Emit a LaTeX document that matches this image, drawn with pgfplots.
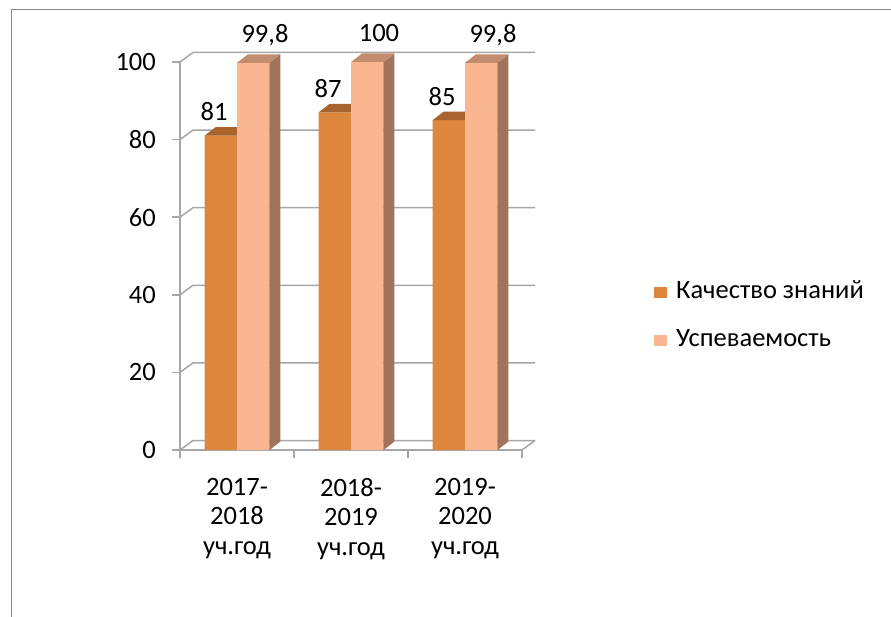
\documentclass[border=0pt]{standalone}
\usepackage{fontspec}
\setmainfont{Carlito}
\usepackage{pgfplots}
\usepackage{pgfplotstable}
\pgfplotsset{compat=1.18}
\definecolor{orF}{HTML}{DD863D}
\definecolor{orT}{HTML}{A9632C}
\definecolor{orS}{HTML}{A9632C}
\definecolor{peF}{HTML}{F9B690}
\definecolor{peT}{HTML}{C28C6E}
\definecolor{peS}{HTML}{A0735A}
\definecolor{gridc}{HTML}{A6A6A6}
\definecolor{framec}{HTML}{878787}

\pgfplotstableread{
x k u
0 81 99.8
1 87 100
2 85 99.8
}\data

\def\bw{0.285}
\def\dxu{0.0965}
\def\dyu{2.19}

\newcommand\barfaces[4]{%
  \pgfmathsetmacro\xl{#1-\bw/2}%
  \pgfmathsetmacro\xr{#1+\bw/2}%
  \pgfmathsetmacro\xlb{\xl+\dxu}%
  \pgfmathsetmacro\xrb{\xr+\dxu}%
  \pgfmathsetmacro\hb{#2+\dyu}%
  \edef\tmp{%
    \noexpand\addplot[fill=#4,draw=none,forget plot] coordinates {(\xr,0) (\xrb,\dyu) (\xrb,\hb) (\xr,#2)} -- cycle;
    \noexpand\addplot[fill=#3,draw=none,forget plot] coordinates {(\xl,#2) (\xr,#2) (\xrb,\hb) (\xlb,\hb)} -- cycle;
  }\tmp}

\begin{document}
\begin{tikzpicture}
\path[use as bounding box] (0,0) rectangle (891pt,616pt);
\draw[framec, line width=1.6pt] (11.5pt,-2pt) -- (11.5pt,606.5pt) -- (893pt,606.5pt);
\begin{axis}[
  at={(180pt,166pt)}, anchor=south west,
  scale only axis, width=342pt, height=388pt,
  xmin=-0.5, xmax=2.5, ymin=0, ymax=100,
  clip=false,
  axis x line*=bottom, axis y line*=left,
  axis line style={draw=gridc, line width=1.5pt},
  ytick={0,20,...,100},
  xtick={-0.5,0.5,1.5,2.5}, xticklabels={},
  extra x ticks={0,1,2},
  extra x tick labels={{2017-\\2018\\уч.год},{2018-\\2019\\уч.год},{2019-\\2020\\уч.год}},
  extra x tick style={major tick length=0pt},
  tick align=outside, major tick length=8pt,
  tick style={draw=gridc, line width=1.5pt},
  font=\fontsize{26.5}{29.5}\selectfont,
  ticklabel style={font=\fontsize{26.5}{29.5}\selectfont},
  yticklabel style={inner sep=0pt, xshift=-16pt},
  xticklabel style={align=center, inner sep=0pt, anchor=north, yshift=-28pt},
  /pgf/number format/.cd, use comma, 1000 sep={}, assume math mode=true,
  /pgfplots/.cd,
  legend style={at={(axis description cs:1.386,0.3428)}, anchor=west, draw=none, fill=none,
    inner sep=0pt, font=\fontsize{26.5}{29.5}\selectfont,
    nodes={inner sep=0pt, text height=18pt, text depth=6pt},
    row sep=24pt},
  legend cell align=left,
  every node near coord/.append style={font=\fontsize{26.5}{29.5}\selectfont, inner sep=0pt, anchor=base},
]
\pgfplotsinvokeforeach{0,20,40,60,80,100}{%
  \draw[gridc, line width=1.5pt] (axis cs:-0.5,#1) -- ++(13pt,9.5pt) -- ([shift={(13pt,9.5pt)}]axis cs:2.5,#1);
}
\draw[gridc, line width=1.5pt] (axis cs:2.5,0) -- ++(13pt,9.5pt);

\addplot[ybar, bar width=\bw, bar shift=-0.1425, fill=orF, draw=none,
  nodes near coords, every node near coord/.append style={xshift=-23pt, yshift=15pt},
  legend image code/.code={\fill[orF] (0pt,-5.5pt) rectangle (13pt,5.5pt); \path (22pt,0pt);}]
  table[x=x, y=k] {\data};
\addlegendentry{Качество знаний}
\pgfplotsforeachungrouped \i in {0,1,2}{%
  \pgfplotstablegetelem{\i}{k}\of\data \let\vk\pgfplotsretval
  \pgfmathsetmacro\cx{\i-0.1425}%
  \barfaces{\cx}{\vk}{orT}{orS}%
}
\addplot[ybar, bar width=\bw, bar shift=0.1425, fill=peF, draw=none,
  nodes near coords, every node near coord/.append style={xshift=28pt, yshift=20pt},
  legend image code/.code={\fill[peF] (0pt,-5.5pt) rectangle (13pt,5.5pt); \path (22pt,0pt);}]
  table[x=x, y=u] {\data};
\addlegendentry{Успеваемость}
\pgfplotsforeachungrouped \i in {0,1,2}{%
  \pgfplotstablegetelem{\i}{u}\of\data \let\vu\pgfplotsretval
  \pgfmathsetmacro\cx{\i+0.1425}%
  \barfaces{\cx}{\vu}{peT}{peS}%
}
\end{axis}
\end{tikzpicture}
\end{document}
